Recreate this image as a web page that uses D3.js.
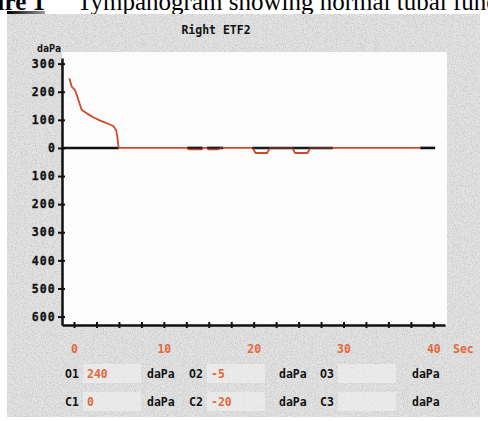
<!DOCTYPE html>
<html>
<head>
<meta charset="utf-8">
<script src="https://d3js.org/d3.v7.min.js"></script>
<style>
  body { margin: 0; background: #fff; }
  svg { display: block; }
  .mono { font-family: "DejaVu Sans Mono", monospace; font-weight: bold; }
</style>
</head>
<body>
<div id="chart"></div>
<script>
// pressure trace (red), time in sec / pressure in daPa
const traceTime  = [-0.52, -0.26, 0.11, 0.37, 0.67, 0.86, 1.42, 2.15, 2.9, 3.64, 4.38, 4.68, 4.82, 4.94, 5.0,
                    12.6, 12.8, 14.2, 14.4, 14.8, 15.0, 16.0, 16.3,
                    19.9, 20.2, 21.5, 21.8, 24.3, 24.6, 26.0, 26.3, 38.6];
const traceValue = [248, 218, 206, 182, 153, 135, 123, 109, 97, 88, 78, 64, 40, 7, 0,
                    0, -5, -5, 0, 0, -5, -5, 0,
                    0, -18, -18, 0, 0, -18, -18, 0, 0];
// black reference trace segments at 0 daPa [start, end] sec
const baseSegments = [[-1.3, 5.0], [12.6, 14.3], [14.8, 16.6], [19.8, 28.8], [38.5, 40.2]];

const yTicks = [300, 200, 100, 0, -100, -200, -300, -400, -500, -600];
const yTickLabels = ["300", "200", "100", "0", "100", "200", "300", "400", "500", "600"];
const xTicks = d3.range(0, 40.01, 2.5);
const xLabels = [0, 10, 20, 30, 40];

// result fields below the graph
const rowNames  = [["O1", "O2", "O3"], ["C1", "C2", "C3"]];
const rowValues = [["240", "-5", ""], ["0", "-20", ""]];

const width = 488, height = 421;
const red = "#cf4a2c", orange = "#e4683a";

const svg = d3.select("#chart").append("svg")
  .attr("width", width).attr("height", height);

const defs = svg.append("defs");
const f = defs.append("filter").attr("id", "speckle").attr("x", 0).attr("y", 0).attr("width", 1).attr("height", 1);
f.append("feTurbulence").attr("type", "fractalNoise").attr("baseFrequency", 1.1).attr("numOctaves", 2).attr("seed", 4);
f.append("feColorMatrix").attr("type", "matrix")
  .attr("values", "0 0 0 0 0.45  0 0 0 0 0.45  0 0 0 0 0.45  1.3 0 0 0 -0.5");
const g0 = defs.append("linearGradient").attr("id", "bar");
g0.append("stop").attr("offset", "0%").attr("stop-color", "#000");
g0.append("stop").attr("offset", "100%").attr("stop-color", "#999");

// caption (cut off at top, as in the scan)
svg.append("text").attr("x", 45).attr("y", 10).attr("text-anchor", "end")
  .attr("font-family", "Liberation Serif").attr("font-weight", "bold").attr("font-size", 25)
  .text("Figure 1");
svg.append("text").attr("x", 77).attr("y", 10)
  .attr("font-family", "Liberation Serif").attr("font-size", 25)
  .text("Tympanogram showing normal tubal function");
svg.append("rect").attr("x", 7).attr("y", 11).attr("width", 38).attr("height", 3).attr("fill", "url(#bar)");

// printout panel
svg.append("rect").attr("x", 7).attr("y", 14).attr("width", 473).attr("height", 403).attr("fill", "#e4e4e4");
svg.append("rect").attr("x", 7).attr("y", 14).attr("width", 473).attr("height", 403).attr("filter", "url(#speckle)");

// plot area
const x = d3.scaleLinear().domain([-1.34, 41.3]).range([62, 445]);
const y = d3.scaleLinear().domain([-630, 320]).range([325, 58]);

svg.append("rect").attr("x", 62).attr("y", 52).attr("width", 385).attr("height", 273).attr("fill", "#fcfcfc");

// light value boxes
const colX = [65, 189, 320];
rowValues.forEach((row, r) => {
  row.forEach((v, c) => {
    svg.append("rect").attr("x", colX[c] + 18).attr("y", 364 + r * 28).attr("width", 58).attr("height", 19)
      .attr("fill", "#f2f2f2").attr("opacity", 0.6);
  });
});

svg.append("text").attr("class", "mono").attr("x", 216).attr("y", 34).attr("text-anchor", "middle")
  .attr("font-size", 11.5).attr("fill", "#111").text("Right ETF2");
svg.append("text").attr("class", "mono").attr("x", 37).attr("y", 52)
  .attr("font-size", 10).attr("fill", "#111").text("daPa");

// y axis
const yAxis = svg.append("g").attr("transform", "translate(62,0)")
  .call(d3.axisLeft(y).tickValues(yTicks).tickSize(4).tickSizeOuter(0).tickPadding(2)
    .tickFormat((d, i) => yTickLabels[i]));
yAxis.select(".domain").attr("stroke", "#111").attr("stroke-width", 2.5);
yAxis.selectAll(".tick line").attr("x1", 3).attr("stroke", "#111").attr("stroke-width", 2);
yAxis.selectAll(".tick text").attr("class", "mono").attr("font-size", 11.5).attr("letter-spacing", 1.2)
  .attr("fill", "#111").attr("stroke", "#111").attr("stroke-width", 0.3);

// x axis
const xAxis = svg.append("g").attr("transform", "translate(0,325)")
  .call(d3.axisBottom(x).tickValues(xTicks).tickSize(3).tickSizeOuter(0).tickPadding(17)
    .tickFormat(d => xLabels.includes(d) ? d : ""));
xAxis.select(".domain").attr("stroke", "#111").attr("stroke-width", 2.5);
xAxis.selectAll(".tick line").attr("y1", -3).attr("stroke", "#111").attr("stroke-width", 2);
xAxis.selectAll(".tick text").attr("class", "mono").attr("font-size", 11.5).attr("fill", orange);
svg.append("text").attr("class", "mono").attr("x", 453).attr("y", 353)
  .attr("font-size", 11.5).attr("fill", orange).text("Sec");

// black reference trace
svg.append("g").selectAll("line").data(baseSegments).join("line")
  .attr("x1", d => x(d[0])).attr("x2", d => x(d[1]))
  .attr("y1", y(0)).attr("y2", y(0))
  .attr("stroke", "#111").attr("stroke-width", 2.6);

// red pressure trace
const line = d3.line().x(d => x(d[0])).y(d => y(d[1]));
svg.append("path").datum(traceTime.map((t, i) => [t, traceValue[i]]))
  .attr("d", line).attr("fill", "none").attr("stroke", red).attr("stroke-width", 1.8)
  .attr("stroke-linejoin", "round");
// black overprint on the flat part
svg.append("g").selectAll("line").data(baseSegments.slice(1, 4)).join("line")
  .attr("x1", d => x(d[0])).attr("x2", d => x(d[1]))
  .attr("y1", y(0)).attr("y2", y(0))
  .attr("stroke", "#222").attr("stroke-width", 1.6).attr("opacity", 0.8);

// result rows
rowNames.forEach((row, r) => {
  const yy = 378 + r * 28;
  row.forEach((name, c) => {
    svg.append("text").attr("class", "mono").attr("x", colX[c]).attr("y", yy)
      .attr("font-size", 11.5).attr("fill", "#111").text(name);
    svg.append("text").attr("class", "mono").attr("x", colX[c] + 22).attr("y", yy)
      .attr("font-size", 11.5).attr("fill", orange).text(rowValues[r][c]);
    svg.append("text").attr("class", "mono").attr("x", [147, 279, 412][c]).attr("y", yy)
      .attr("font-size", 11.5).attr("fill", "#111").text("daPa");
  });
});
</script>
</body>
</html>
